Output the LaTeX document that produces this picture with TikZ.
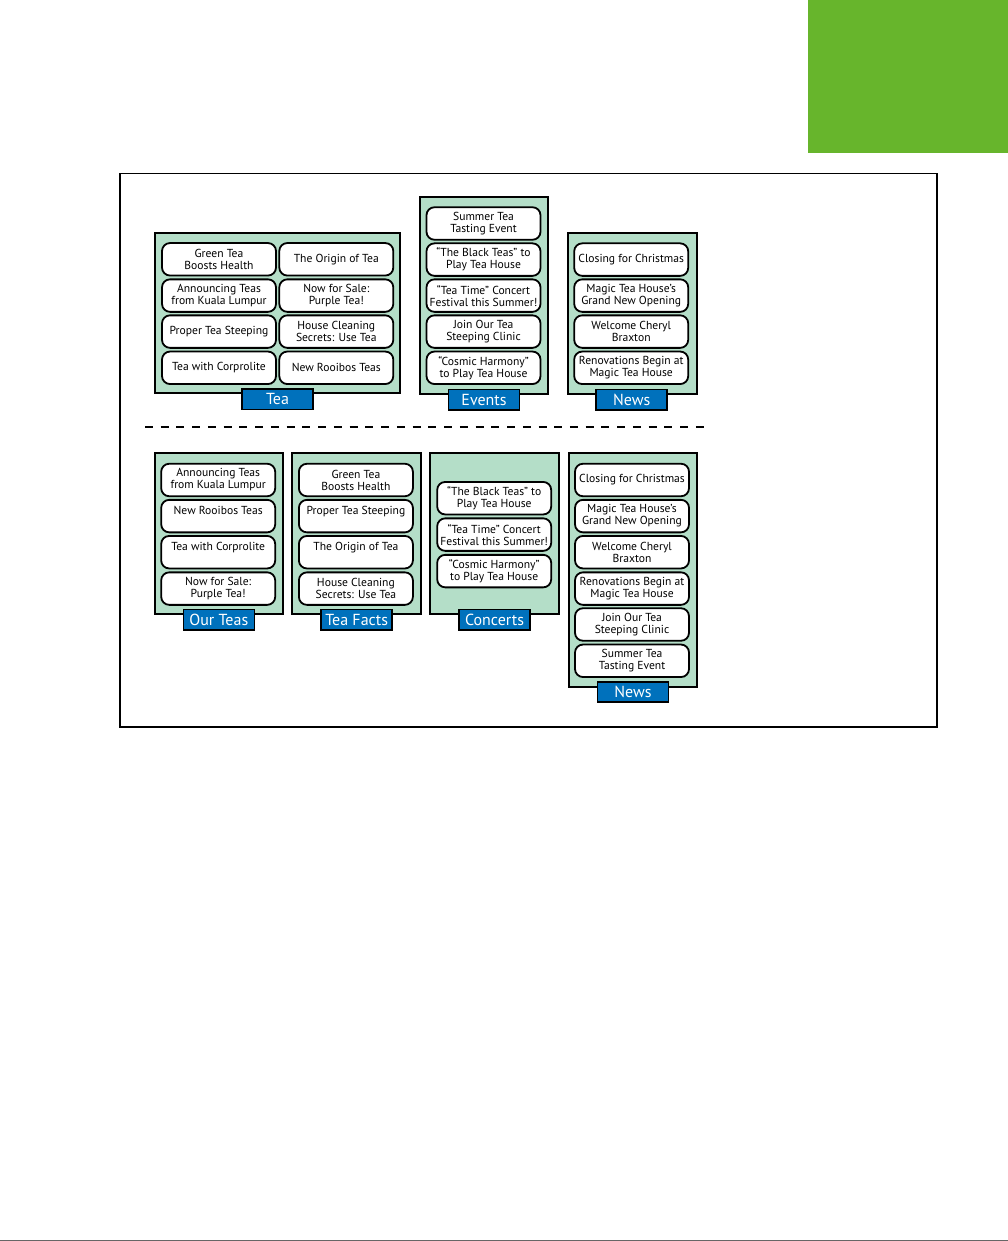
\documentclass[tikz,border=0pt]{standalone}
\usepackage{fontspec}
\setmainfont{PT Sans}
\usetikzlibrary{fit}
\definecolor{mint}{HTML}{B4DEC8}
\definecolor{tabblue}{HTML}{0071BC}
\definecolor{leaf}{HTML}{67B52C}
\tikzset{
  container/.style={draw=black, line width=2pt, fill=mint, inner sep=0pt},
  tcardbox/.style={draw=black, line width=1.8pt, fill=white, rounded corners=8pt,
    minimum width=114pt, minimum height=32.5pt, inner sep=0pt, align=center,
    font=\fontsize{11.6}{12}\selectfont},
  tab/.style={draw=black, line width=1.6pt, fill=tabblue, text=white,
    minimum width=71pt, minimum height=20.5pt, inner sep=0pt,
    font=\fontsize{16}{16}\selectfont},
}
\newcommand\tcard[4]{\node[tcardbox] (#1) at (#2,#3+0.8) {#4};}
\begin{document}
\begin{tikzpicture}[x=1pt,y=-1pt]
\useasboundingbox (0,0) rectangle (1008,1241);
% decorations of page
\fill[leaf] (808,0) rectangle (1008,153);
\draw[color=black!60, line width=1.2pt] (0,1240.3) -- (1008,1240.3);
\node[draw=black, line width=1.3pt, inner sep=0pt, fit={(120,173.5)(937,727)}] (frame) {};

% ---------- top row ----------
\node[container, fit={(155,233)(400,393)}] (teabox) {};
\tcard{t1}{219}{258.5}{Green Tea\\Boosts Health}
\tcard{t2}{336.3}{258.5}{The Origin of Tea}
\tcard{t3}{219}{294.8}{Announcing Teas\\from Kuala Lumpur}
\tcard{t4}{336.3}{294.8}{Now for Sale:\\Purple Tea!}
\tcard{t5}{219}{330.8}{Proper Tea Steeping}
\tcard{t6}{336.3}{330.8}{House Cleaning\\Secrets: Use Tea}
\tcard{t7}{219}{367}{Tea with Corprolite}
\tcard{t8}{336.3}{367}{New Rooibos Teas}
\node[tab] (teatab) at (277.5,399.3) {Tea};

\node[container, fit={(419.5,197.5)(548.3,393.5)}] (eventsbox) {};
\tcard{e1}{483.5}{222.7}{Summer Tea\\Tasting Event}
\tcard{e2}{483.5}{258.8}{“The Black Teas” to\\Play Tea House}
\tcard{e3}{483.5}{294.8}{“Tea Time” Concert\\Festival this Summer!}
\tcard{e4}{483.5}{330.8}{Join Our Tea\\Steeping Clinic}
\tcard{e5}{483.5}{367}{“Cosmic Harmony”\\to Play Tea House}
\node[tab] (eventstab) at (484,399.6) {Events};

\node[container, fit={(567.5,233)(696.5,393.5)}] (newsbox) {};
\tcard{n1}{631.2}{258.8}{Closing for Christmas}
\tcard{n2}{631.2}{294.8}{Magic Tea House’s\\Grand New Opening}
\tcard{n3}{631.2}{330.8}{Welcome Cheryl\\Braxton}
\tcard{n4}{631.2}{367}{Renovations Begin at\\Magic Tea House}
\node[tab] (newstab) at (631.7,399.6) {News};

% ---------- divider ----------
\coordinate (dl) at (145,426.5);
\coordinate (dr) at (704,426.5);
\draw[line width=2pt, dash pattern=on 8pt off 7.74pt] (dl) -- (dr);

% ---------- bottom row ----------
\node[container, fit={(154.5,453)(283.3,614)}] (ourbox) {};
\tcard{o1}{218.2}{479.2}{Announcing Teas\\from Kuala Lumpur}
\tcard{o2}{218.2}{515.3}{New Rooibos Teas\\\mbox{}}
\tcard{o3}{218.2}{551.4}{Tea with Corprolite\\\mbox{}}
\tcard{o4}{218.2}{587.8}{Now for Sale:\\Purple Tea!}
\node[tab] (ourtab) at (218.8,619.7) {Our Teas};

\node[container, fit={(292.3,453)(421,614)}] (factsbox) {};
\tcard{f1}{355.9}{479.2}{Green Tea\\Boosts Health}
\tcard{f2}{355.9}{515.3}{Proper Tea Steeping\\\mbox{}}
\tcard{f3}{355.9}{551.4}{The Origin of Tea\\\mbox{}}
\tcard{f4}{355.9}{587.8}{House Cleaning\\Secrets: Use Tea}
\node[tab] (factstab) at (356.7,619.7) {Tea Facts};

\node[container, fit={(430.3,453.3)(559,614)}] (concertbox) {};
\tcard{c1}{494.2}{497.4}{“The Black Teas” to\\Play Tea House}
\tcard{c2}{494.2}{533.8}{“Tea Time” Concert\\Festival this Summer!}
\tcard{c3}{494.2}{570.3}{“Cosmic Harmony”\\to Play Tea House}
\node[tab] (concerttab) at (494.5,619.7) {Concerts};

\node[container, fit={(568.5,453.3)(697.3,686.5)}] (news2box) {};
\tcard{m1}{632}{479.2}{Closing for Christmas}
\tcard{m2}{632}{515.3}{Magic Tea House’s\\Grand New Opening}
\tcard{m3}{632}{551.4}{Welcome Cheryl\\Braxton}
\tcard{m4}{632}{587.8}{Renovations Begin at\\Magic Tea House}
\tcard{m5}{632}{623.7}{Join Our Tea\\Steeping Clinic}
\tcard{m6}{632}{660}{Summer Tea\\Tasting Event}
\node[tab] (news2tab) at (633,692) {News};
\end{tikzpicture}
\end{document}
